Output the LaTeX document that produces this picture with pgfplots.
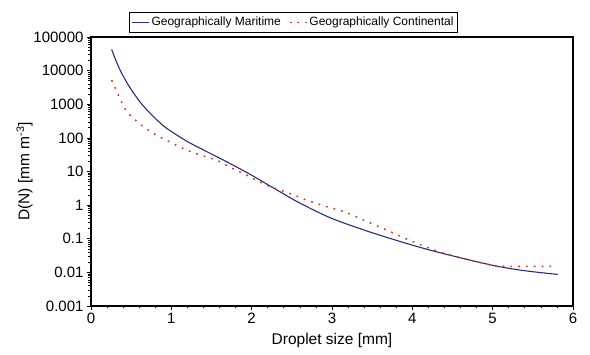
\documentclass[border=0pt]{standalone}
\usepackage{pgfplots}
\pgfplotsset{compat=1.18}
\usepackage{fontspec}
\setmainfont{Liberation Sans}
\definecolor{mar}{HTML}{2B2B78}
\definecolor{con}{HTML}{D23A3A}
\begin{document}
\begin{tikzpicture}
\begin{axis}[
  scale only axis,
  width=482pt, height=269pt,
  xmin=0, xmax=6,
  ymode=log, ymin=0.001, ymax=100000,
  xtick={0,1,2,3,4,5,6},
  minor x tick num=4,
  ytick={0.001,0.01,0.1,1,10,100,1000,10000,100000},
  yticklabels={0.001,0.01,0.1,1,10,100,1000,10000,100000},
  tick align=outside,
  major tick length=4pt, minor tick length=2.5pt,
  tick style={black, line width=0.6pt},
  xtick pos=bottom, ytick pos=left,
  axis line style={black, line width=1.3pt},
  ticklabel style={font=\fontsize{15}{17}\selectfont},
  /pgf/number format/assume math mode=true,
  xticklabel style={yshift=0pt},
  xlabel={Droplet size [mm]},
  ylabel={D(N) [mm m\textsuperscript{-3}]},
  label style={font=\fontsize{15.5}{18}\selectfont},
  xlabel style={yshift=-2pt},
  ylabel style={yshift=-6pt},
  legend style={at={(0.42,1.018)}, anchor=south, legend columns=2,
    font=\fontsize{12}{14.5}\selectfont, draw=black, line width=0.6pt,
    inner xsep=2pt, inner ysep=2.5pt, /tikz/every even column/.append style={column sep=6pt}},
  legend cell align=left,
]
\addplot[mar, smooth, line width=1.1pt] coordinates {
 (0.257,42700) (0.3,22900) (0.35,12000) (0.4,6920) (0.435,4900) (0.5,2750) (0.6,1260)
 (0.7,661) (0.8,380) (0.9,229) (1.0,155) (1.2,77.6) (1.4,43.7) (1.6,25.1) (1.8,14.1)
 (2.0,7.76) (2.3,2.95) (2.6,1.15) (3.0,0.40) (3.5,0.151) (4.0,0.0646) (4.4,0.0355)
 (5.0,0.0162) (5.4,0.0112) (5.81,0.0087)
};
\addlegendentry{Geographically Maritime}
\addplot[con, smooth, line width=1.5pt, dash pattern=on 1.8pt off 6pt] coordinates {
 (0.257,5250) (0.35,1660) (0.44,631) (0.6,269) (0.81,123) (1.0,72) (1.15,48)
 (1.356,31) (1.56,21.9) (1.75,12.6) (1.94,7.76) (2.1,4.9) (2.23,3.55) (2.35,2.82)
 (2.54,1.95) (2.66,1.48) (2.9,0.955) (3.18,0.60) (3.4,0.355) (3.59,0.224) (3.8,0.135)
 (4.01,0.0813) (4.34,0.0407) (4.7,0.024) (5.0,0.0162) (5.25,0.0151) (5.5,0.0151) (5.75,0.0151)
};
\addlegendentry{Geographically Continental}
\end{axis}
\useasboundingbox (current axis.south west) ++(-91pt,-49pt) rectangle ++(590pt,355pt);
\end{tikzpicture}
\end{document}
